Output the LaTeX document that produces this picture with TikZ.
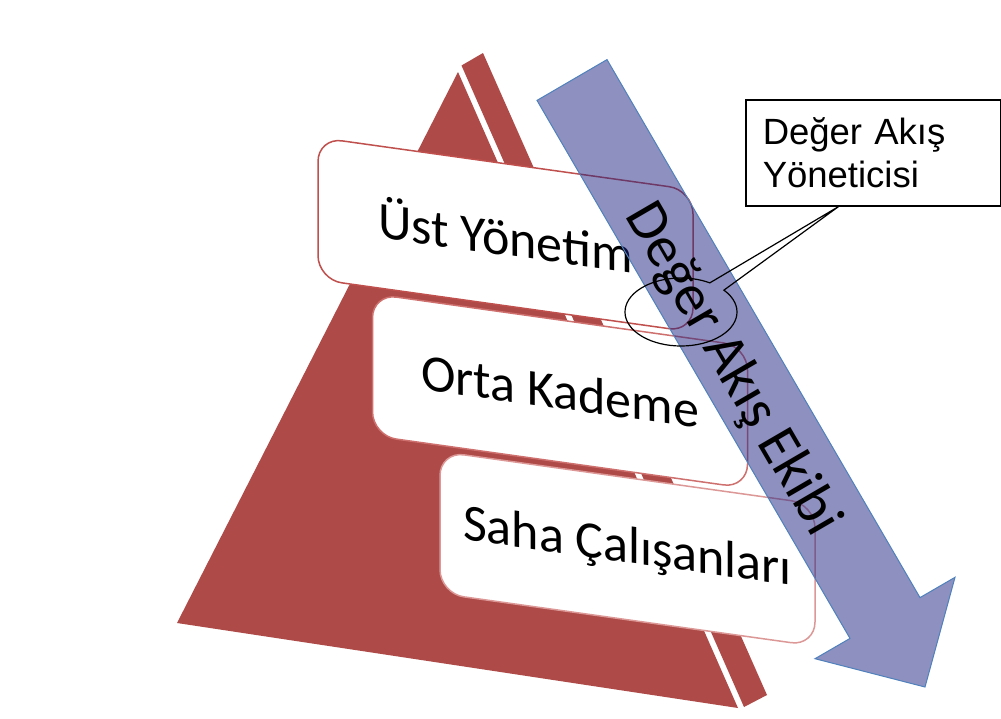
\documentclass[tikz,border=0pt]{standalone}
\usepackage{fontspec}
\setmainfont{Carlito}
\newfontfamily\arialf{Liberation Sans}
\usetikzlibrary{calc}
\definecolor{pyrred}{RGB}{174,74,71}
\definecolor{boxA}{RGB}{192,80,77}
\definecolor{boxB}{RGB}{206,112,110}
\definecolor{boxC}{RGB}{220,152,150}
\definecolor{arrfill}{RGB}{31,35,129}
\definecolor{arredge}{RGB}{79,129,189}
\begin{document}
\begin{tikzpicture}[x=1pt,y=-1pt,
  pyr/.style={fill=pyrred},
  lvl/.style={draw, fill=white, rounded corners=24pt, minimum width=375pt,
    minimum height=142pt, line width=1.5pt, yslant=-0.14, inner sep=0pt,
    font=\fontsize{52}{60}\selectfont},
  flowarrow/.style={fill=arrfill, fill opacity=0.5, draw=arredge, line width=1pt},
  teamtext/.style={rotate=-59.8, anchor=base, font=\fontsize{58}{62}\selectfont},
  callbox/.style={draw=black, line width=1.5pt, fill=white, anchor=north west,
    font=\arialf\fontsize{36.5}{43}\selectfont, align=left, text width=221pt,
    inner xsep=17pt, inner ysep=0pt, minimum height=106pt},
  callline/.style={draw=black, line width=1.2pt}]
\useasboundingbox (0,0) rectangle (1001,718);
\fill[white] (0,0) rectangle (1001,718);
% pyramid
\fill[pyr] (458,72) -- (177,623) -- (738,708) -- cycle;
\fill[pyr] (461.5,65.5) -- (483,53) -- (767,695) -- (744,707) -- cycle;
% levels
\node[lvl, draw=boxA] (top) at (505.5,234.75) {Üst Yönetim};
\node[lvl, draw=boxB] (mid) at (560,391) {Orta Kademe};
\node[lvl, draw=boxC] (low) at (627.5,548.75) {Saha Çalışanları};
% value stream arrow
\filldraw[flowarrow] (537,100.4) -- (850,638.4) -- (815,658.7) -- (925,687)
  -- (955,577.3) -- (920,597.6) -- (607,59.6) -- cycle;
\node[teamtext] (team) at (719,377) {Değer Akış Ekibi};
% callout
\node[callbox] (vsm) at (745,99) {Değer Akış\\Yöneticisi};
\coordinate (ellc) at (681,312);
\coordinate (tip) at ($(vsm.south west)!0.365!(vsm.south east)$);
\draw[callline] ([shift={(-40:56 and 34)}]ellc)
  arc[start angle=-40, end angle=301, x radius=56, y radius=34] -- (tip) -- cycle;
\end{tikzpicture}
\end{document}
